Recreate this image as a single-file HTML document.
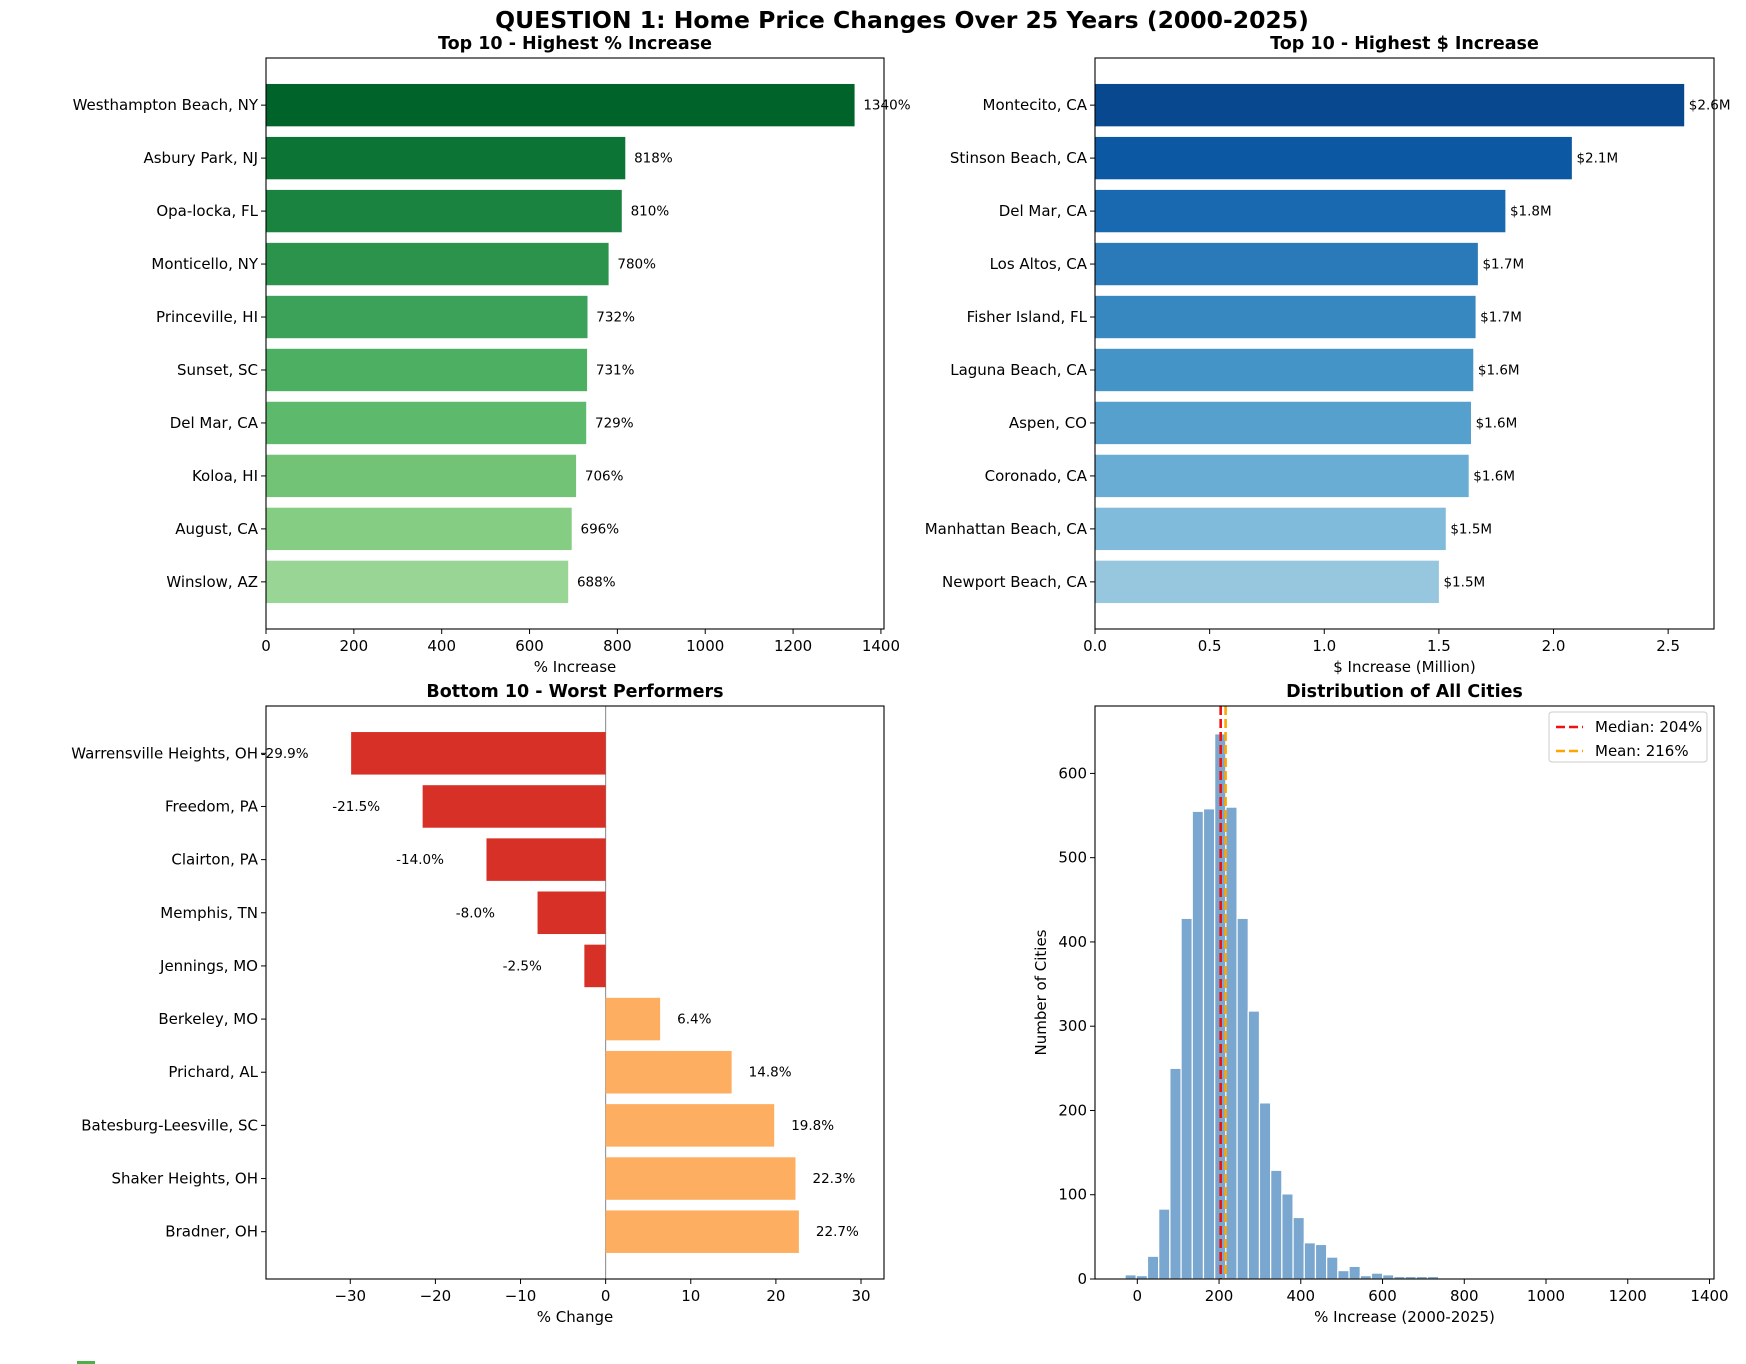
<!DOCTYPE html>
<html><head><meta charset="utf-8">
<style>
html,body{margin:0;padding:0;background:#fff;}
svg{display:block;font-family:"DejaVu Sans","Liberation Sans",sans-serif;}
</style></head>
<body>
<svg id="fig" width="1746" height="1364" viewBox="0 0 1746 1364" xmlns="http://www.w3.org/2000/svg">
<text x="902" y="28" font-size="23.5" font-weight="bold" text-anchor="middle">QUESTION 1: Home Price Changes Over 25 Years (2000-2025)</text>
<rect x="77" y="1361" width="18" height="3" fill="#4daf4a"/>
</svg>
<script>
// ---- data ----
const pctCities = ["Westhampton Beach, NY","Asbury Park, NJ","Opa-locka, FL","Monticello, NY","Princeville, HI","Sunset, SC","Del Mar, CA","Koloa, HI","August, CA","Winslow, AZ"];
const pctValues = [1340,818,810,780,732,731,729,706,696,688];
const dollarCities = ["Montecito, CA","Stinson Beach, CA","Del Mar, CA","Los Altos, CA","Fisher Island, FL","Laguna Beach, CA","Aspen, CO","Coronado, CA","Manhattan Beach, CA","Newport Beach, CA"];
const dollarValues = [2.57,2.08,1.79,1.67,1.66,1.65,1.64,1.63,1.53,1.50];
const dollarLabels = ["$2.6M","$2.1M","$1.8M","$1.7M","$1.7M","$1.6M","$1.6M","$1.6M","$1.5M","$1.5M"];
const worstCities = ["Warrensville Heights, OH","Freedom, PA","Clairton, PA","Memphis, TN","Jennings, MO","Berkeley, MO","Prichard, AL","Batesburg-Leesville, SC","Shaker Heights, OH","Bradner, OH"];
const worstValues = [-29.9,-21.5,-14.0,-8.0,-2.5,6.4,14.8,19.8,22.3,22.7];
const histStart = -29.9;
const histBinWidth = 27.4;
const histCounts = [5,4,27,83,250,428,555,558,647,560,428,318,209,129,101,73,43,41,26,10,15,4,7,5,3,3,3,3,0,0,1,0,0,0,0,0,0,0,0,0,0,0,0,0,0,0,0,0,0,1];
const medianVal = 204;
const meanVal = 216;
const pctTicks = [0,200,400,600,800,1000,1200,1400];
const dollarTicks = [0.0,0.5,1.0,1.5,2.0,2.5];
const dollarTickLabels = ["0.0","0.5","1.0","1.5","2.0","2.5"];
const worstTicks = [-30,-20,-10,0,10,20,30];
const worstTickLabels = ["\u221230","\u221220","\u221210","0","10","20","30"];
const histXTicks = [0,200,400,600,800,1000,1200,1400];
const histYTicks = [0,100,200,300,400,500,600];

const greens = ["#00642a","#0c7535","#1a833f","#2c934c","#3ca25a","#4daf62","#5db96b","#72c376","#86cd84","#99d595"];
const blues = ["#08488e","#0d58a3","#1969b0","#2a7aba","#3787c0","#4594c7","#56a0ce","#69add5","#81bbdb","#97c6df"];

const NS = "http://www.w3.org/2000/svg";
const fig = document.getElementById('fig');
function mk(tag, attrs, parent){
  const e = document.createElementNS(NS, tag);
  for (const k in attrs) e.setAttribute(k, attrs[k]);
  (parent||fig).appendChild(e);
  return e;
}
function txt(str, attrs, parent){
  const e = mk('text', attrs, parent);
  e.textContent = str;
  return e;
}

function scale(d0,d1,r0,r1){ return v => r0 + (v-d0)*(r1-r0)/(d1-d0); }

function axesFrame(g, L, T, R, B){
  const f = mk('rect',{x:L,y:T,width:R-L,height:B-T,fill:'none',stroke:'#000','stroke-width':1.1},g);
  
  
}

function barPanel(opts){
  const {L,T,R,B,cats,vals,colors,xmin,xmax,ticks,tickLabels,title,xlabel,labelFn,labelPos,name,zeroLine} = opts;
  const g = mk('g',{});
  
  
  const x = scale(xmin,xmax,L,R);
  const y = scale(-0.89, 9.89, T, B);
  if (zeroLine) {
    const zl = mk('line',{x1:x(0),x2:x(0),y1:T,y2:B,stroke:'#888','stroke-width':1},g);
    
    
  }
  cats.forEach((c,i)=>{
    const v = vals[i];
    const x0 = x(Math.min(0,v)), x1 = x(Math.max(0,v));
    const r = mk('rect',{x:x0,y:y(i-0.4),width:x1-x0,height:y(i+0.4)-y(i-0.4),fill:colors[i]},g);
    
    
    const p = labelPos(v);
    const t = txt(labelFn(i), {x:x(p.x), y:y(i)+4.5, 'font-size':13.5, 'text-anchor':p.anchor, fill:'#000'}, g);
    
    
    mk('line',{x1:L-5,x2:L,y1:y(i),y2:y(i),stroke:'#000','stroke-width':1},g);
    const cl = txt(c,{x:L-8,y:y(i)+5,'font-size':15,'text-anchor':'end'},g);
    
    
  });
  ticks.forEach((tv,i)=>{
    mk('line',{x1:x(tv),x2:x(tv),y1:B,y2:B+5,stroke:'#000','stroke-width':1},g);
    const tl = txt(tickLabels[i],{x:x(tv),y:B+22,'font-size':15,'text-anchor':'middle'},g);
    
    
  });
  axesFrame(g,L,T,R,B);
  const tt = txt(title,{x:(L+R)/2,y:T-9,'font-size':17.5,'font-weight':'bold','text-anchor':'middle'},g);
  
  
  const xl = txt(xlabel,{x:(L+R)/2,y:B+43,'font-size':15,'text-anchor':'middle'},g);
  
  
}

barPanel({L:266,T:58,R:884,B:629,cats:pctCities,vals:pctValues,colors:greens,xmin:0,xmax:1407,
  ticks:pctTicks,tickLabels:pctTicks.map(String),title:'Top 10 - Highest % Increase',xlabel:'% Increase',
  labelFn:i=>pctValues[i]+'%',labelPos:v=>({x:v+20,anchor:'start'}),name:'chart-top-percent'});

barPanel({L:1095,T:58,R:1714,B:629,cats:dollarCities,vals:dollarValues,colors:blues,xmin:0,xmax:2.70,
  ticks:dollarTicks,tickLabels:dollarTickLabels,title:'Top 10 - Highest $ Increase',xlabel:'$ Increase (Million)',
  labelFn:i=>dollarLabels[i],labelPos:v=>({x:v+0.02,anchor:'start'}),name:'chart-top-dollar'});

barPanel({L:266,T:706,R:884,B:1279,cats:worstCities,vals:worstValues,
  colors:worstValues.map(v=>v<0?'#d73027':'#fdae61'),xmin:-39.9,xmax:32.7,
  ticks:worstTicks,tickLabels:worstTickLabels,title:'Bottom 10 - Worst Performers',xlabel:'% Change',
  labelFn:i=>worstValues[i].toFixed(1)+'%',labelPos:v=>(v<0?{x:v-5,anchor:'end'}:{x:v+2,anchor:'start'}),
  name:'chart-worst',zeroLine:true});

// ---- histogram ----
(function(){
  const L=1095,T=706,R=1714,B=1279;
  const g = mk('g',{});
  
  
  const x = scale(-103.5,1411,L,R);
  const y = scale(0,680,B,T);
  histCounts.forEach((c,i)=>{
    if (c<=0) return;
    const a = histStart + i*histBinWidth, b = a + histBinWidth;
    const r = mk('rect',{x:x(a),y:y(c),width:x(b)-x(a),height:y(0)-y(c),fill:'#7aa7cf',stroke:'#fff','stroke-width':1.2},g);
    
    
  });
  const ml = mk('line',{x1:x(medianVal),x2:x(medianVal),y1:T,y2:B,stroke:'#ee1111','stroke-width':2.6,'stroke-dasharray':'9,4'},g);
  
  
  const mn = mk('line',{x1:x(meanVal),x2:x(meanVal),y1:T,y2:B,stroke:'#ffa500','stroke-width':2.6,'stroke-dasharray':'9,4'},g);
  
  
  histXTicks.forEach(tv=>{
    mk('line',{x1:x(tv),x2:x(tv),y1:B,y2:B+5,stroke:'#000','stroke-width':1},g);
    const tl = txt(String(tv),{x:x(tv),y:B+22,'font-size':15,'text-anchor':'middle'},g);
    
    
  });
  histYTicks.forEach(tv=>{
    mk('line',{x1:L-5,x2:L,y1:y(tv),y2:y(tv),stroke:'#000','stroke-width':1},g);
    const tl = txt(String(tv),{x:L-8,y:y(tv)+5,'font-size':15,'text-anchor':'end'},g);
    
    
  });
  axesFrame(g,L,T,R,B);
  const tt = txt('Distribution of All Cities',{x:(L+R)/2,y:T-9,'font-size':17.5,'font-weight':'bold','text-anchor':'middle'},g);
  
  
  const xl = txt('% Increase (2000-2025)',{x:(L+R)/2,y:B+43,'font-size':15,'text-anchor':'middle'},g);
  
  
  const yl = txt('Number of Cities',{x:0,y:0,'font-size':15,'text-anchor':'middle',transform:'translate(1046,'+((T+B)/2)+') rotate(-90)'},g);
  
  
  // legend
  const lg = mk('g',{},g);
  
  
  mk('rect',{x:1549,y:712,width:158,height:50,rx:3,fill:'#fff','fill-opacity':0.85,stroke:'#ccc','stroke-width':1},lg);
  mk('line',{x1:1556,x2:1583,y1:727,y2:727,stroke:'#ee1111','stroke-width':2.6,'stroke-dasharray':'9,4'},lg);
  const l1 = txt('Median: '+medianVal+'%',{x:1595,y:732,'font-size':15},lg);
  
  
  mk('line',{x1:1556,x2:1583,y1:751,y2:751,stroke:'#ffa500','stroke-width':2.6,'stroke-dasharray':'9,4'},lg);
  const l2 = txt('Mean: '+meanVal+'%',{x:1595,y:756,'font-size':15},lg);
  
  
})();
</script>
</body></html>
